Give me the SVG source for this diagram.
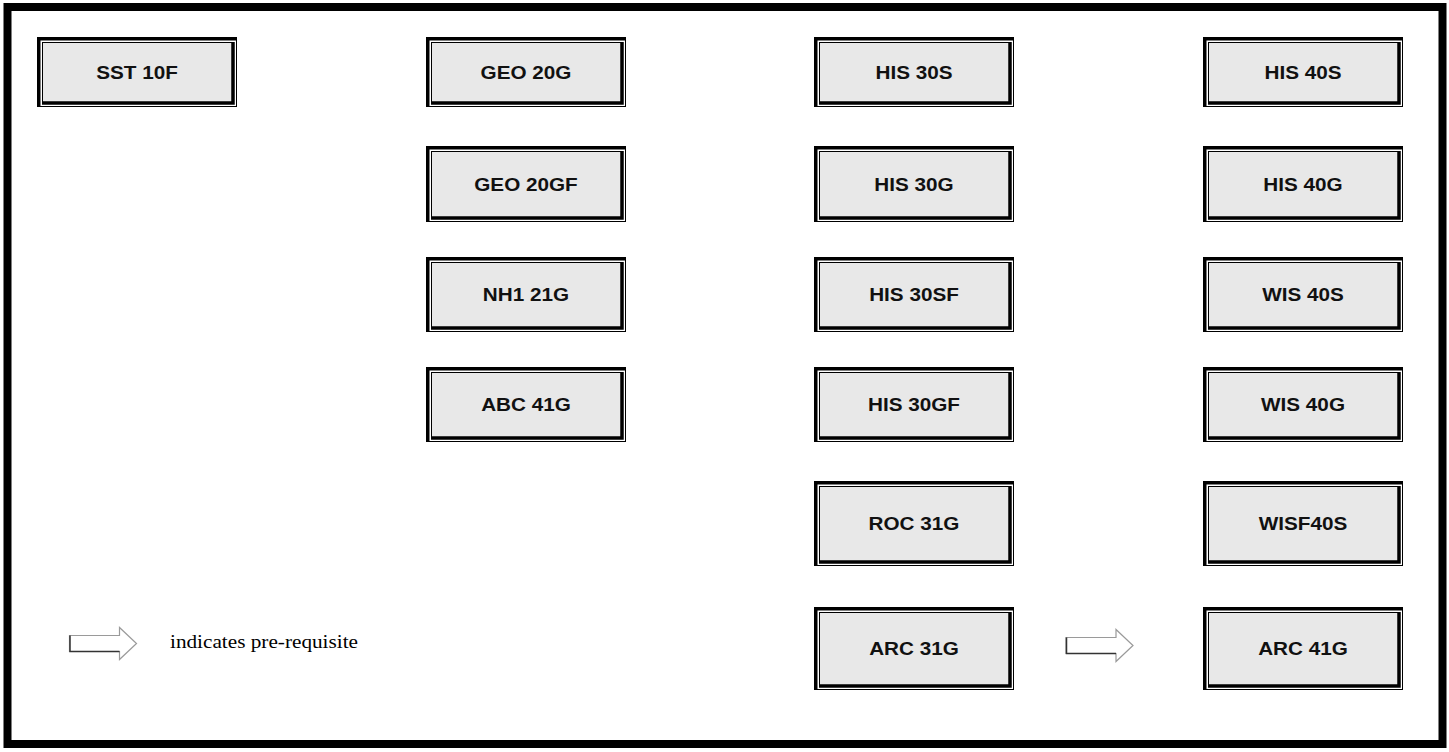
<svg xmlns="http://www.w3.org/2000/svg" width="1449" height="752" viewBox="0 0 1449 752">
<style>
.bgw{fill:#fff}
.o{fill:none;stroke:#000;stroke-width:1}
.ot{fill:none;stroke:#000;stroke-width:3.5}
.i{fill:#e8e8e8;stroke:#000;stroke-width:1}
.it{fill:none;stroke:#000;stroke-width:3.5}
.lbl{font-family:"Liberation Sans",Arial,sans-serif;font-weight:bold;font-size:19px;fill:#111;text-anchor:middle}
.arr{fill:#fff;stroke:#9a9a9a;stroke-width:1.2;stroke-linejoin:miter}
.arrd{fill:none;stroke:#333;stroke-width:1.5}
.leg{font-family:"Liberation Serif","Times New Roman",serif;font-size:18.5px;fill:#000}
</style>
<rect x="0" y="0" width="1449" height="752" fill="#fff"/>
<rect x="7.5" y="7" width="1435" height="737" fill="none" stroke="#000" stroke-width="8"/>

<g id="n-sst10f" transform="translate(37,37)">
<rect class="bgw" width="200" height="70"/><rect class="o" x="0.5" y="0.5" width="199" height="69"/><path class="ot" d="M1.75,70 V1.75 H200"/>
<rect class="i" x="5.5" y="5.5" width="190.5" height="60.5"/><path class="it" d="M5,66 H196 V5"/>
<text class="lbl" transform="translate(100,41.5) scale(1.09,1)">SST 10F</text></g>

<g id="n-geo20g" transform="translate(426,37)">
<rect class="bgw" width="200" height="70"/><rect class="o" x="0.5" y="0.5" width="199" height="69"/><path class="ot" d="M1.75,70 V1.75 H200"/>
<rect class="i" x="5.5" y="5.5" width="190.5" height="60.5"/><path class="it" d="M5,66 H196 V5"/>
<text class="lbl" transform="translate(100,41.5) scale(1.09,1)">GEO 20G</text></g>

<g id="n-his30s" transform="translate(814,37)">
<rect class="bgw" width="200" height="70"/><rect class="o" x="0.5" y="0.5" width="199" height="69"/><path class="ot" d="M1.75,70 V1.75 H200"/>
<rect class="i" x="5.5" y="5.5" width="190.5" height="60.5"/><path class="it" d="M5,66 H196 V5"/>
<text class="lbl" transform="translate(100,41.5) scale(1.09,1)">HIS 30S</text></g>

<g id="n-his40s" transform="translate(1203,37)">
<rect class="bgw" width="200" height="70"/><rect class="o" x="0.5" y="0.5" width="199" height="69"/><path class="ot" d="M1.75,70 V1.75 H200"/>
<rect class="i" x="5.5" y="5.5" width="190.5" height="60.5"/><path class="it" d="M5,66 H196 V5"/>
<text class="lbl" transform="translate(100,41.5) scale(1.09,1)">HIS 40S</text></g>

<g id="n-geo20gf" transform="translate(426,146)">
<rect class="bgw" width="200" height="76"/><rect class="o" x="0.5" y="0.5" width="199" height="75"/><path class="ot" d="M1.75,76 V1.75 H200"/>
<rect class="i" x="5.5" y="5.5" width="190.5" height="66.5"/><path class="it" d="M5,72 H196 V5"/>
<text class="lbl" transform="translate(100,44.5) scale(1.09,1)">GEO 20GF</text></g>

<g id="n-his30g" transform="translate(814,146)">
<rect class="bgw" width="200" height="76"/><rect class="o" x="0.5" y="0.5" width="199" height="75"/><path class="ot" d="M1.75,76 V1.75 H200"/>
<rect class="i" x="5.5" y="5.5" width="190.5" height="66.5"/><path class="it" d="M5,72 H196 V5"/>
<text class="lbl" transform="translate(100,44.5) scale(1.09,1)">HIS 30G</text></g>

<g id="n-his40g" transform="translate(1203,146)">
<rect class="bgw" width="200" height="76"/><rect class="o" x="0.5" y="0.5" width="199" height="75"/><path class="ot" d="M1.75,76 V1.75 H200"/>
<rect class="i" x="5.5" y="5.5" width="190.5" height="66.5"/><path class="it" d="M5,72 H196 V5"/>
<text class="lbl" transform="translate(100,44.5) scale(1.09,1)">HIS 40G</text></g>

<g id="n-nh121g" transform="translate(426,257)">
<rect class="bgw" width="200" height="75"/><rect class="o" x="0.5" y="0.5" width="199" height="74"/><path class="ot" d="M1.75,75 V1.75 H200"/>
<rect class="i" x="5.5" y="5.5" width="190.5" height="65.5"/><path class="it" d="M5,71 H196 V5"/>
<text class="lbl" transform="translate(100,44) scale(1.09,1)">NH1 21G</text></g>

<g id="n-his30sf" transform="translate(814,257)">
<rect class="bgw" width="200" height="75"/><rect class="o" x="0.5" y="0.5" width="199" height="74"/><path class="ot" d="M1.75,75 V1.75 H200"/>
<rect class="i" x="5.5" y="5.5" width="190.5" height="65.5"/><path class="it" d="M5,71 H196 V5"/>
<text class="lbl" transform="translate(100,44) scale(1.09,1)">HIS 30SF</text></g>

<g id="n-wis40s" transform="translate(1203,257)">
<rect class="bgw" width="200" height="75"/><rect class="o" x="0.5" y="0.5" width="199" height="74"/><path class="ot" d="M1.75,75 V1.75 H200"/>
<rect class="i" x="5.5" y="5.5" width="190.5" height="65.5"/><path class="it" d="M5,71 H196 V5"/>
<text class="lbl" transform="translate(100,44) scale(1.09,1)">WIS 40S</text></g>

<g id="n-abc41g" transform="translate(426,367)">
<rect class="bgw" width="200" height="75"/><rect class="o" x="0.5" y="0.5" width="199" height="74"/><path class="ot" d="M1.75,75 V1.75 H200"/>
<rect class="i" x="5.5" y="5.5" width="190.5" height="65.5"/><path class="it" d="M5,71 H196 V5"/>
<text class="lbl" transform="translate(100,44) scale(1.09,1)">ABC 41G</text></g>

<g id="n-his30gf" transform="translate(814,367)">
<rect class="bgw" width="200" height="75"/><rect class="o" x="0.5" y="0.5" width="199" height="74"/><path class="ot" d="M1.75,75 V1.75 H200"/>
<rect class="i" x="5.5" y="5.5" width="190.5" height="65.5"/><path class="it" d="M5,71 H196 V5"/>
<text class="lbl" transform="translate(100,44) scale(1.09,1)">HIS 30GF</text></g>

<g id="n-wis40g" transform="translate(1203,367)">
<rect class="bgw" width="200" height="75"/><rect class="o" x="0.5" y="0.5" width="199" height="74"/><path class="ot" d="M1.75,75 V1.75 H200"/>
<rect class="i" x="5.5" y="5.5" width="190.5" height="65.5"/><path class="it" d="M5,71 H196 V5"/>
<text class="lbl" transform="translate(100,44) scale(1.09,1)">WIS 40G</text></g>

<g id="n-roc31g" transform="translate(814,481)">
<rect class="bgw" width="200" height="85"/><rect class="o" x="0.5" y="0.5" width="199" height="84"/><path class="ot" d="M1.75,85 V1.75 H200"/>
<rect class="i" x="5.5" y="5.5" width="190.5" height="75.5"/><path class="it" d="M5,81 H196 V5"/>
<text class="lbl" transform="translate(100,49) scale(1.09,1)">ROC 31G</text></g>

<g id="n-wisf40s" transform="translate(1203,481)">
<rect class="bgw" width="200" height="85"/><rect class="o" x="0.5" y="0.5" width="199" height="84"/><path class="ot" d="M1.75,85 V1.75 H200"/>
<rect class="i" x="5.5" y="5.5" width="190.5" height="75.5"/><path class="it" d="M5,81 H196 V5"/>
<text class="lbl" transform="translate(100,49) scale(1.09,1)">WISF40S</text></g>

<g id="n-arc31g" transform="translate(814,607)">
<rect class="bgw" width="200" height="83"/><rect class="o" x="0.5" y="0.5" width="199" height="82"/><path class="ot" d="M1.75,83 V1.75 H200"/>
<rect class="i" x="5.5" y="5.5" width="190.5" height="73.5"/><path class="it" d="M5,79 H196 V5"/>
<text class="lbl" transform="translate(100,48) scale(1.09,1)">ARC 31G</text></g>

<g id="n-arc41g" transform="translate(1203,607)">
<rect class="bgw" width="200" height="83"/><rect class="o" x="0.5" y="0.5" width="199" height="82"/><path class="ot" d="M1.75,83 V1.75 H200"/>
<rect class="i" x="5.5" y="5.5" width="190.5" height="73.5"/><path class="it" d="M5,79 H196 V5"/>
<text class="lbl" transform="translate(100,48) scale(1.09,1)">ARC 41G</text></g>

<g id="connectors">
<g transform="translate(1066,645.5)">
<polygon class="arr" points="0,-8 50,-8 50,-16 67,0 50,16 50,8 0,8"/>
<path class="arrd" d="M0.5,-8 V8 H50"/>
</g>
</g>

<g id="legend">
<g transform="translate(69.5,643.5)">
<polygon class="arr" points="0,-8 50,-8 50,-16 67,0 50,16 50,8 0,8"/>
<path class="arrd" d="M0.5,-8 V8 H50"/>
</g>
<text class="leg" x="170" y="647.5" textLength="188" lengthAdjust="spacingAndGlyphs">indicates pre-requisite</text>
</g>
</svg>
